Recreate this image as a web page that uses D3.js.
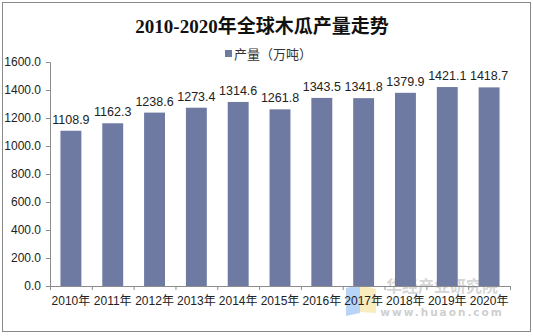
<!DOCTYPE html>
<html>
<head>
<meta charset="utf-8">
<script src="https://cdn.jsdelivr.net/npm/d3@7"></script>
<style>
  html, body { margin: 0; padding: 0; background: #fff; }
  svg { display: block; }
</style>
</head>
<body>
<svg id="chart" width="533" height="336"></svg>
<script>
// Global papaya output, 2010–2020 (10k tonnes)
const years = ["2010年","2011年","2012年","2013年","2014年","2015年","2016年","2017年","2018年","2019年","2020年"];
const output = [1108.9, 1162.3, 1238.6, 1273.4, 1314.6, 1261.8, 1343.5, 1341.8, 1379.9, 1421.1, 1418.7];
const yTicks = [0, 200, 400, 600, 800, 1000, 1200, 1400, 1600];
const titleText = "2010-2020年全球木瓜产量走势";
const legendText = "产量（万吨）";

const svg = d3.select("#chart");
const barColor = "#6E7AA1";
const axisColor = "#8c8c8c";
const sans = "Arial, 'Liberation Sans', 'Noto Sans CJK SC', sans-serif";

// outer frame
svg.append("rect").attr("x", 2.5).attr("y", 2.5).attr("width", 528).attr("height", 329)
  .attr("fill", "#fff").attr("stroke", "#8a8a8a").attr("stroke-width", 1);

const m = { left: 50, right: 510, top: 62, bottom: 286 };

const x = d3.scaleBand().domain(years).range([m.left, m.right]).paddingInner(0.5).paddingOuter(0.25);
const y = d3.scaleLinear().domain([0, 1600]).range([m.bottom, m.top]);

// title
svg.append("text").attr("x", 262).attr("y", 33).attr("text-anchor", "middle")
  .attr("font-family", "'Liberation Serif', 'Noto Sans CJK SC', serif")
  .attr("font-weight", "bold").attr("font-size", 19).attr("fill", "#111")
  .text(titleText);

// legend
svg.append("rect").attr("x", 225).attr("y", 50).attr("width", 7).attr("height", 7).attr("fill", barColor);
svg.append("text").attr("x", 234).attr("y", 58.5)
  .attr("font-family", sans).attr("font-size", 13).attr("fill", "#333")
  .text(legendText);

// watermark
const wm = svg.append("g").attr("opacity", 0.55);
wm.append("path").attr("d", "M346,288 L360,285 L360,313 L346,316 Z").attr("fill", "#7fb2f0");
wm.append("path").attr("d", "M360,285 L376,289 L376,313 L360,312 Z").attr("fill", "#f5df8a");
wm.append("text").attr("x", 442).attr("y", 292).attr("text-anchor", "middle")
  .attr("font-family", "'Noto Sans CJK SC', sans-serif").attr("font-weight", "bold")
  .attr("font-size", 16).attr("fill", "#b5b5b5").text("华经产业研究院");
wm.append("text").attr("x", 442).attr("y", 316).attr("text-anchor", "middle")
  .attr("font-family", "'DejaVu Sans', sans-serif").attr("font-weight", "bold")
  .attr("font-size", 10.5).attr("letter-spacing", 2).attr("fill", "#a8a8a8").text("www.huaon.com");

// bars
svg.append("g").selectAll("rect").data(output).join("rect")
  .attr("x", (d, i) => x(years[i]))
  .attr("y", d => y(d))
  .attr("width", x.bandwidth())
  .attr("height", d => y(0) - y(d))
  .attr("fill", barColor);

// value labels
svg.append("g").selectAll("text").data(output).join("text")
  .attr("x", (d, i) => x(years[i]) + x.bandwidth() / 2)
  .attr("y", d => y(d) - 7)
  .attr("text-anchor", "middle")
  .attr("font-family", sans).attr("font-size", 12.5).attr("fill", "#222")
  .text(d => d.toFixed(1));

// y axis
const yAxis = svg.append("g").attr("transform", `translate(${m.left},0)`)
  .call(d3.axisLeft(y).tickValues(yTicks).tickFormat(d => d.toFixed(1)).tickSize(4).tickPadding(5));
yAxis.selectAll("text").attr("font-family", sans).attr("font-size", 12).attr("fill", "#222");

// x axis with ticks on category boundaries
const xAxisG = svg.append("g").attr("transform", `translate(0,${m.bottom})`);
xAxisG.append("line").attr("x1", m.left).attr("x2", m.right).attr("y1", 0.5).attr("y2", 0.5);
const bounds = d3.range(years.length + 1).map(i => m.left + i * (m.right - m.left) / years.length);
xAxisG.selectAll("line.tk").data(bounds).join("line").attr("class", "tk")
  .attr("x1", d => d + 0.5).attr("x2", d => d + 0.5).attr("y1", 0).attr("y2", 4);
xAxisG.selectAll("text").data(years).join("text")
  .attr("x", d => x(d) + x.bandwidth() / 2).attr("y", 19)
  .attr("text-anchor", "middle")
  .attr("font-family", sans).attr("font-size", 12).attr("fill", "#222")
  .text(d => d);

svg.selectAll(".domain, .tick line").attr("stroke", axisColor);
xAxisG.selectAll("line").attr("stroke", axisColor);
</script>
</body>
</html>
